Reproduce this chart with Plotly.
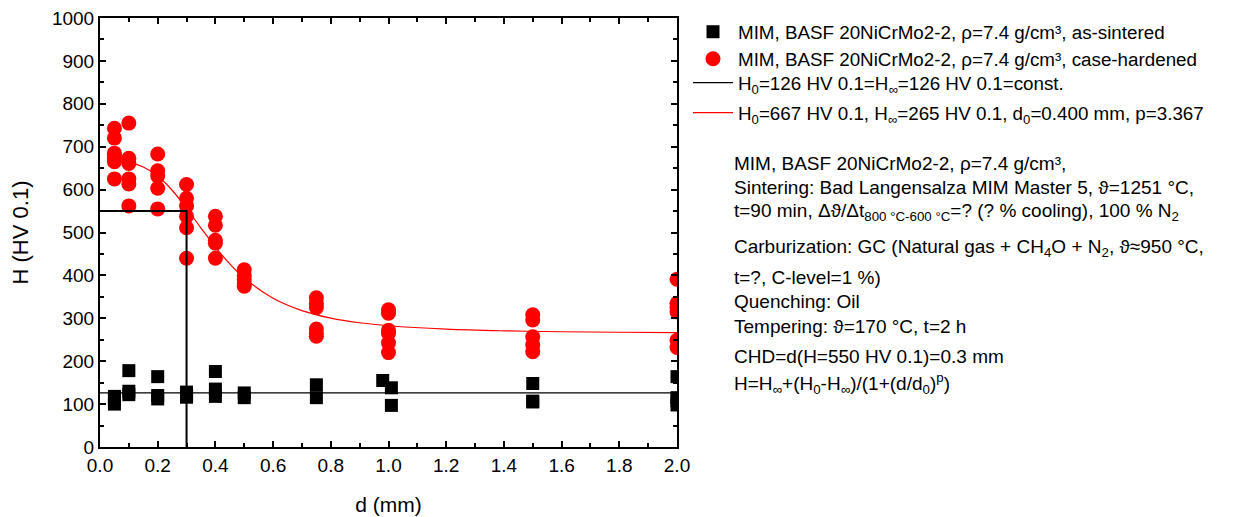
import plotly.graph_objects as go

# ---------------- data ----------------
# as-sintered (black squares)
sint_d = [0.05, 0.05, 0.05, 0.1, 0.1, 0.1, 0.2, 0.2, 0.2, 0.3, 0.3, 0.3,
          0.4, 0.4, 0.4, 0.5, 0.5, 0.75, 0.75, 0.98, 1.01, 1.01,
          1.5, 1.5, 1.5, 2.0, 2.0, 2.0, 2.0]
sint_h = [118, 110, 100, 178, 130, 122, 164, 120, 112, 128, 120, 116,
          176, 135, 118, 126, 115, 145, 115, 155, 138, 97,
          148, 107, 105, 164, 115, 108, 98]

# case-hardened (red circles)
case_d = [0.05] * 7 + [0.1] * 6 + [0.2] * 5 + [0.3] * 6 + [0.4] * 5 + [0.5] * 5 + \
         [0.75] * 6 + [1.0] * 6 + [1.5] * 5 + [2.0] * 6
case_h = [743, 720, 685, 673, 665, 680, 625,
          755, 673, 661, 625, 613, 562,
          683, 644, 632, 603, 555,
          612, 580, 562, 538, 511, 440,
          538, 517, 482, 475, 440,
          413, 400, 390, 380, 375,
          348, 335, 325, 275, 265, 258,
          320, 312, 272, 265, 243, 220,
          308, 296, 257, 238, 222,
          391, 335, 326, 315, 249, 232]

# fitted curves
fit_const_d = [0.0, 2.0]
fit_const_h = [126, 126]
fit_case_d = [0.05, 0.1, 0.15, 0.2, 0.25, 0.3, 0.35, 0.4, 0.45, 0.5, 0.6, 0.7,
              0.8, 0.9, 1.0, 1.2, 1.4, 1.6, 1.8, 2.0]
fit_case_h = [666.6, 663.3, 652.7, 631.5, 598.5, 556.4, 510.4, 466.0, 426.7, 393.9,
              346.8, 318.0, 300.5, 289.6, 282.6, 274.7, 270.8, 268.7, 267.5, 266.8]

# case hardening depth marker
chd_d = [0.0, 0.3, 0.3]
chd_h = [550, 550, 0]

legend_names = [
    "MIM, BASF 20NiCrMo2-2, ρ=7.4 g/cm³, as-sintered",
    "MIM, BASF 20NiCrMo2-2, ρ=7.4 g/cm³, case-hardened",
    "H<sub>0</sub>=126 HV 0.1=H<sub>∞</sub>=126 HV 0.1=const.",
    "H<sub>0</sub>=667 HV 0.1, H<sub>∞</sub>=265 HV 0.1, d<sub>0</sub>=0.400 mm, p=3.367",
]
legend_y_px = [32, 59, 83, 113]

info_lines = [
    "MIM, BASF 20NiCrMo2-2, ρ=7.4 g/cm³,",
    "Sintering: Bad Langensalza MIM Master 5, ϑ=1251 °C,",
    "t=90 min, Δϑ/Δt<sub>800 °C-600 °C</sub>=? (? % cooling), 100 % N<sub>2</sub>",
    "Carburization: GC (Natural gas + CH<sub>4</sub>O + N<sub>2</sub>, ϑ≈950 °C,",
    "t=?, C-level=1 %)",
    "Quenching: Oil",
    "Tempering: ϑ=170 °C, t=2 h",
    "CHD=d(H=550 HV 0.1)=0.3 mm",
    "H=H<sub>∞</sub>+(H<sub>0</sub>-H<sub>∞</sub>)/(1+(d/d<sub>0</sub>)<sup>p</sup>)",
]
info_y_px = [163, 187, 212, 248, 277, 301, 326, 356, 383]

# ---------------- layout geometry ----------------
W, H = 1257, 517
L, R, T, B = 100, 677, 18, 447
FONT = "Liberation Sans, Arial, sans-serif"


def px_x(px):
    return (px - L) / (R - L)


def px_y(py):
    return (B - py) / (B - T)


fig = go.Figure()
legend_keys = ["legend", "legend2", "legend3", "legend4"]

fig.add_trace(go.Scatter(
    x=sint_d, y=sint_h, mode="markers", name=legend_names[0], legend=legend_keys[0],
    marker=dict(symbol="square", size=13, color="black", line=dict(width=0)),
))
fig.add_trace(go.Scatter(
    x=case_d, y=case_h, mode="markers", name=legend_names[1], legend=legend_keys[1],
    marker=dict(symbol="circle", size=15, color="#ff0000", line=dict(width=0)),
))
fig.add_trace(go.Scatter(
    x=fit_const_d, y=fit_const_h, mode="lines", name=legend_names[2], legend=legend_keys[2],
    line=dict(color="black", width=1.2),
))
fig.add_trace(go.Scatter(
    x=fit_case_d, y=fit_case_h, mode="lines", name=legend_names[3], legend=legend_keys[3],
    line=dict(color="#ff0000", width=1.2, shape="spline"),
))
fig.add_trace(go.Scatter(
    x=chd_d, y=chd_h, mode="lines", showlegend=False,
    line=dict(color="black", width=2),
))

for txt, ypx in zip(info_lines, info_y_px):
    fig.add_annotation(
        xref="paper", yref="paper", x=px_x(732), y=px_y(ypx),
        xanchor="left", yanchor="middle", text=txt, showarrow=False,
        font=dict(family=FONT, size=19, color="black"),
    )

axis_common = dict(
    showline=True, linecolor="black", linewidth=2, mirror="ticks",
    ticks="inside", ticklen=6, tickwidth=1.5, tickcolor="black",
    showgrid=False, zeroline=False, automargin=False,
    tickfont=dict(family=FONT, size=19, color="black"),
)

legend_common = dict(
    xanchor="left", yanchor="middle", xref="paper", yref="paper",
    bgcolor="rgba(0,0,0,0)", borderwidth=0,
    font=dict(family=FONT, size=18.8, color="black"),
    itemwidth=40,
)

layout_legends = {}
for key, ypx in zip(legend_keys, legend_y_px):
    layout_legends[key] = dict(x=px_x(688), y=px_y(ypx), **legend_common)

fig.update_layout(
    width=W, height=H,
    margin=dict(l=L, r=W - R, t=T, b=H - B, pad=0, autoexpand=False),
    paper_bgcolor="white", plot_bgcolor="white",
    font=dict(family=FONT, size=18.8, color="black"),
    xaxis=dict(
        range=[0, 2.0], dtick=0.2, tick0=0, tickformat=".1f",
        minor=dict(dtick=0.1, ticks="inside", ticklen=4, tickcolor="black", tickwidth=1.5),
        title=dict(text="d (mm)", font=dict(family=FONT, size=21), standoff=23),
        **axis_common,
    ),
    yaxis=dict(
        range=[0, 1000], dtick=100, tick0=0,
        minor=dict(dtick=50, ticks="inside", ticklen=4, tickcolor="black", tickwidth=1.5),
        title=dict(text="H (HV 0.1)", font=dict(family=FONT, size=22), standoff=17),
        **axis_common,
    ),
    showlegend=True,
    **layout_legends,
)

fig.write_html("out.html", config={"displayModeBar": False},
               post_script="document.body.style.margin='0';")
